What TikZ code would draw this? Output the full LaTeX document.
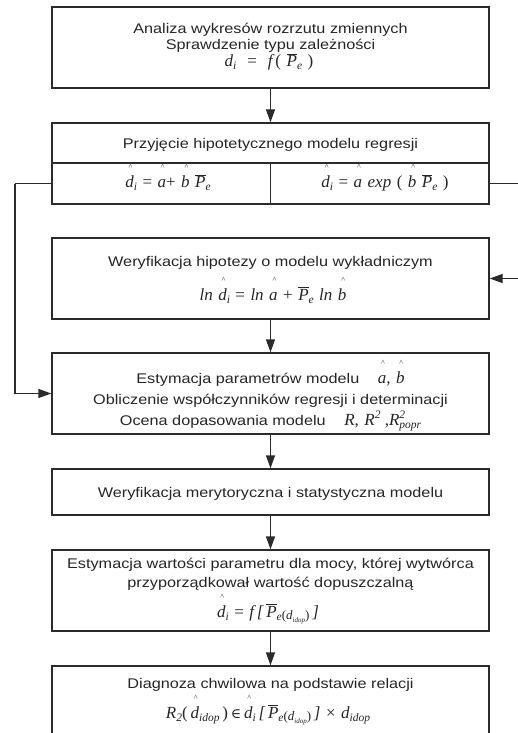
\documentclass[tikz,border=0pt]{standalone}
\usepackage{fontspec}
\setmainfont{Liberation Sans}[FakeStretch=1.16]
\newfontfamily\fm{Liberation Serif}
\newfontfamily\fsym{DejaVu Serif}
\usetikzlibrary{arrows.meta}
\definecolor{ln}{HTML}{2B2B2B}
\newcommand\mi[1]{{\fm\itshape #1}}
\newcommand\mr[1]{{\fm #1}}
\newcommand\hc[1]{\setbox0\hbox{\mi{#1}}\leavevmode\hbox to\wd0{\hss\kern2pt\raisebox{18pt}{\fontsize{8}{8}\selectfont\fm\char"5E}\hss}\kern-\wd0\box0\relax}
\newcommand\sbs[1]{\raisebox{-0.35ex}{\fontsize{11.5}{11.5}\selectfont\mi{#1}}}
\newcommand\sps[1]{\raisebox{0.75ex}{\fontsize{11.5}{11.5}\selectfont\mi{#1}}}
\newcommand\Pb{$\overline{\hbox{\mi{P}}}$}
\newcommand\ped{\raisebox{-0.3ex}{\fontsize{13}{13}\selectfont\mr{(}\mi{d}\raisebox{-0.45ex}{\fontsize{7}{7}\selectfont\mi{idop}}\mr{)}}}
\tikzset{
  box/.style={draw=ln, line width=1.4pt, minimum width=437pt, inner sep=0pt},
  txt/.style={inner sep=0pt, anchor=base, font=\fontsize{14}{16}\selectfont, text=black!85},
  fml/.style={inner sep=0pt, anchor=base, font=\fontsize{17}{19}\selectfont, text=black!85},
  conn/.style={draw=ln, line width=1.4pt},
  arr/.style={conn, -{Triangle[length=13pt,width=9pt]}}
}
\begin{document}
\begin{tikzpicture}[x=1pt,y=-1pt]
\clip (0,0) rectangle (518,733);
\fill[white] (0,0) rectangle (518,733);
% boxes
\node[box, minimum height=81pt] (b1) at (270.5,47.5) {};
\node[box, minimum height=81pt] (b2) at (270.5,163.5) {};
\node[box, minimum height=81pt] (b3) at (270.5,278.5) {};
\node[box, minimum height=81pt] (b4) at (270.5,393.5) {};
\node[box, minimum height=46pt] (b5) at (270.5,492) {};
\node[box, minimum height=81pt] (b6) at (270.5,590.5) {};
\node[box, minimum height=100pt] (b7) at (270.5,716) {};
% split of box 2
\coordinate (sp) at (270.5,163);
\coordinate (rowc) at (270.5,183.5);
\draw[conn] (b2.west |- sp) -- (b2.east |- sp);
\draw[conn] (sp) -- (sp |- b2.south);
% box 1
\node[txt] (t1a) at (270.5,34) {Analiza wykresów rozrzutu zmiennych};
\node[txt] (t1b) at (270.5,49.5) {Sprawdzenie typu zależności};
\node[fml] (f1) at (269,66.5) {\mi{d}\sbs{i}\ \ \mr{=}\ \ \mi{f}\,\mr{(}\ \Pb\sbs{e}\ \mr{)}};
% box 2
\node[txt] (t2) at (270.5,149) {Przyjęcie hipotetycznego modelu regresji};
\node[fml] (f2a) at (168,187.5) {\hc{d}\sbs{i} \mr{=} \hc{a}\mr{+} \hc{b} \Pb\sbs{e}};
\node[fml] (f2b) at (385,187.5) {\hc{d}\sbs{i} \mr{=} \hc{a} \mi{exp} \mr{(} \hc{b} \Pb\sbs{e} \mr{)}};
% box 3
\node[txt] (t3) at (270.5,266) {Weryfikacja hipotezy o modelu wykładniczym};
\node[fml] (f3) at (273,300) {\mi{ln} \hc{d}\sbs{i} \mr{=} \mi{ln} \hc{a} \mr{+} \Pb\sbs{e} \mi{ln} \hc{b}};
% box 4
\node[txt] (t4a) at (270.5,383.5) {Estymacja parametrów modelu \quad{\fontsize{17}{19}\selectfont\hc{a}\mi{,} \hc{b}}};
\node[txt] (t4b) at (270.5,404.5) {Obliczenie współczynników regresji i determinacji};
\node[txt] (t4c) at (270.5,425.5) {Ocena dopasowania modelu \quad{\fontsize{17}{19}\selectfont\mi{R}\mr{,} \mi{R}\sps{2}\mr{ ,}\mi{R}\makebox[0pt][l]{\sps{2}}\sbs{popr}}};
% box 5
\node[txt] (t5) at (270.5,497.5) {Weryfikacja merytoryczna i statystyczna modelu};
% box 6
\node[txt] (t6a) at (270.5,568.5) {Estymacja wartości parametru dla mocy, której wytwórca};
\node[txt] (t6b) at (270.5,587.5) {przyporządkował wartość dopuszczalną};
\node[fml] (f6) at (268,617) {\hc{d}\sbs{i} \mr{=} \mi{f}\,\mi{[}\,\Pb\sbs{e}\ped\,\mi{]}};
% box 7
\node[txt] (t7) at (270.5,688.5) {Diagnoza chwilowa na podstawie relacji};
\node[fml] (f7) at (268,718) {\mi{R}\sbs{2}\mr{(}\,\hc{d}\sbs{idop}\,\mr{)}\,{\fsym\fontsize{14}{16}\selectfont ∈}\,\hc{d}\sbs{i}\,\mi{[}\,\Pb\sbs{e}\ped\,\mi{]} \mr{×} \mi{d}\sbs{idop}};
% connectors
\draw[arr] (b1) -- (b2);
\draw[arr] (b3) -- (b4);
\draw[arr] (b4) -- (b5);
\draw[arr] (b5) -- (b6);
\draw[arr] (b6.south) -- (b7.north);
\coordinate (lk) at (15,183.5);
\coordinate (ro) at (520,183.5);
\coordinate (ri) at (520,278.5);
\draw[conn] (b2.west |- rowc) -- (lk);
\draw[arr] (lk) |- (b4.west);
\draw[conn] (b2.east |- rowc) -- (ro);
\draw[arr] (ri) -- (b3.east);
\end{tikzpicture}
\end{document}
